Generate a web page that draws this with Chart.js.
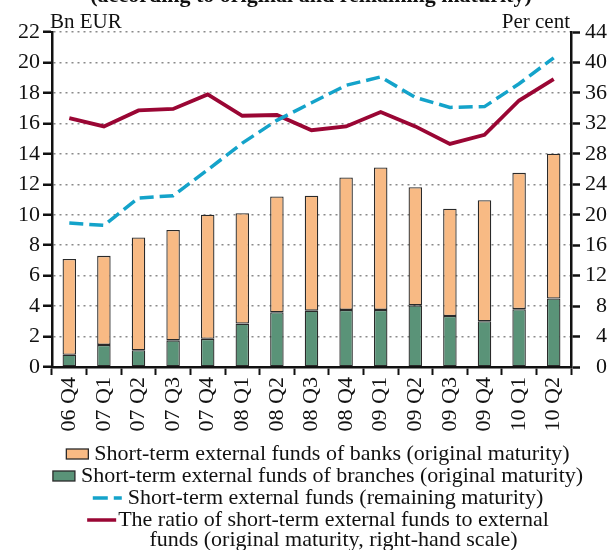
<!DOCTYPE html>
<html>
<head>
<meta charset="utf-8">
<script src="https://cdn.jsdelivr.net/npm/chart.js@4.4.1/dist/chart.umd.min.js"></script>
<style>
  html, body { margin: 0; padding: 0; background: #fff; }
  #wrap { width: 609px; height: 550px; }
</style>
</head>
<body>
<div id="wrap"><canvas id="chart" width="609" height="550"></canvas></div>
<script>
// ---------------------
// Data
// ---------------------

const quarters = ['06 Q4','07 Q1','07 Q2','07 Q3','07 Q4','08 Q1','08 Q2','08 Q3',
                  '08 Q4','09 Q1','09 Q2','09 Q3','09 Q4','10 Q1','10 Q2'];

// Bn EUR, stacked (branches at the bottom, banks on top)
const branchFunds = [0.8,1.45,1.1,1.75,1.85,2.85,3.6,3.7,3.75,3.75,4.05,3.35,3.0,3.8,4.5];
const bankFunds   = [6.3,5.85,7.4,7.25,8.15,7.25,7.6,7.55,8.7,9.35,7.75,7.05,7.95,8.95,9.5];

// Bn EUR, left-hand scale
const remainingMaturity = [9.45,9.3,11.1,11.25,12.95,14.7,16.2,17.35,18.5,19.05,17.7,17.05,17.1,18.6,20.3];

// Per cent, right-hand scale
const shortTermRatio = [32.7,31.6,33.7,33.9,35.8,33.0,33.1,31.1,31.6,33.5,31.6,29.3,30.5,35.0,37.8];

const titleText = '(according to original and remaining maturity)';
const leftUnit = 'Bn EUR';
const rightUnit = 'Per cent';

const legendItems = [
  { type: 'box',  color: '#F8BA84', lines: ['Short-term external funds of banks (original maturity)'] },
  { type: 'box',  color: '#5A9378', lines: ['Short-term external funds of branches (original maturity)'] },
  { type: 'dash', color: '#14A3CA', lines: ['Short-term external funds (remaining maturity)'] },
  { type: 'line', color: '#9A0634', lines: ['The ratio of short-term external funds to external',
                                             'funds (original maturity, right-hand scale)'] }
];

const FONT = '"Liberation Serif", "Times New Roman", serif';

// ---------------------
// Titles + legend drawn on the canvas
// ---------------------

const extras = {
  id: 'extras',
  afterDraw(chart) {
    const ctx = chart.ctx;
    ctx.save();
    ctx.fillStyle = '#111';
    ctx.textBaseline = 'alphabetic';

    ctx.font = 'bold 22px ' + FONT;
    ctx.textAlign = 'center';
    ctx.fillText(titleText, 311, 2);

    ctx.font = '21px ' + FONT;
    ctx.textAlign = 'left';
    ctx.fillText(leftUnit, 50, 28);
    ctx.textAlign = 'right';
    ctx.fillText(rightUnit, 570, 28);

    // legend
    ctx.font = '22px ' + FONT;
    ctx.textAlign = 'left';
    const centre = 318;
    const lineGap = 22;
    let base = 460;
    legendItems.forEach(item => {
      const symW = item.type === 'box' ? 22 : 29;
      const gap = item.type === 'box' ? 6 : (item.type === 'dash' ? 6 : 2);
      const textW = ctx.measureText(item.lines[0]).width;
      const x0 = centre - (symW + gap + textW) / 2;
      const midY = base - 6;

      if (item.type === 'box') {
        ctx.fillStyle = item.color;
        ctx.fillRect(x0, midY - 5, symW, 10);
        ctx.strokeStyle = '#2a2a2a';
        ctx.lineWidth = 1.3;
        ctx.strokeRect(x0, midY - 5, symW, 10);
      } else {
        ctx.strokeStyle = item.color;
        ctx.lineWidth = 3.5;
        ctx.setLineDash(item.type === 'dash' ? [15, 6] : []);
        ctx.beginPath();
        ctx.moveTo(x0, midY);
        ctx.lineTo(x0 + symW, midY);
        ctx.stroke();
        ctx.setLineDash([]);
      }

      ctx.fillStyle = '#111';
      const tx = x0 + symW + gap;
      ctx.fillText(item.lines[0], tx, base);
      const textCentre = tx + textW / 2;
      for (let i = 1; i < item.lines.length; i++) {
        base += lineGap - 2;
        ctx.textAlign = 'center';
        ctx.fillText(item.lines[i], textCentre, base);
        ctx.textAlign = 'left';
      }
      base += lineGap;
    });

    ctx.restore();
  }
};

// ---------------------
// Chart
// ---------------------

const tickFont = { family: FONT, size: 22 };

new Chart(document.getElementById('chart'), {
  type: 'bar',
  data: {
    labels: quarters,
    datasets: [
      {
        type: 'line',
        label: 'Short-term external funds (remaining maturity)',
        data: remainingMaturity,
        yAxisID: 'y',
        borderColor: '#14A3CA',
        borderWidth: 3.5,
        borderDash: [14, 6],
        pointRadius: 0,
        tension: 0,
        fill: false,
        order: 0
      },
      {
        type: 'line',
        label: 'The ratio of short-term external funds to external funds',
        data: shortTermRatio,
        yAxisID: 'y2',
        borderColor: '#9A0634',
        borderWidth: 3.8,
        pointRadius: 0,
        tension: 0,
        fill: false,
        order: 1
      },
      {
        label: 'Short-term external funds of branches (original maturity)',
        data: branchFunds,
        yAxisID: 'y',
        backgroundColor: '#5A9378',
        borderColor: '#2a2a2a',
        borderWidth: 1.3,
        borderSkipped: false,
        stack: 'funds',
        order: 2
      },
      {
        label: 'Short-term external funds of banks (original maturity)',
        data: bankFunds,
        yAxisID: 'y',
        backgroundColor: '#F8BA84',
        borderColor: '#2a2a2a',
        borderWidth: 1.3,
        borderSkipped: false,
        stack: 'funds',
        order: 2
      }
    ]
  },
  options: {
    responsive: false,
    animation: false,
    layout: { padding: { top: 32, right: 2, left: 0, bottom: 0 } },
    datasets: {
      bar: { barPercentage: 0.39, categoryPercentage: 1 }
    },
    plugins: {
      legend: { display: false },
      tooltip: { enabled: false }
    },
    scales: {
      x: {
        stacked: true,
        afterFit: s => { s.height = 183; },
        grid: {
          offset: true,
          drawOnChartArea: false,
          drawTicks: true,
          tickLength: 8,
          tickColor: '#111',
          tickWidth: 2
        },
        border: { color: '#111', width: 2.5 },
        ticks: {
          font: tickFont,
          color: '#111',
          minRotation: 90,
          maxRotation: 90,
          autoSkip: false,
          padding: 2
        }
      },
      y: {
        position: 'left',
        stacked: true,
        min: 0,
        max: 22,
        afterFit: s => { s.width = 52; },
        grid: {
          color: '#8a8a8a',
          lineWidth: 1.5,
          drawTicks: true,
          tickLength: 9,
          tickColor: '#111',
          tickWidth: 2.5
        },
        border: { color: '#111', width: 2.5, dash: [2, 4] },
        ticks: { stepSize: 2, font: tickFont, color: '#111', padding: 3 }
      },
      y2: {
        position: 'right',
        min: 0,
        max: 44,
        afterFit: s => { s.width = 36; },
        grid: {
          drawOnChartArea: false,
          drawTicks: true,
          tickLength: 9,
          tickColor: '#111',
          tickWidth: 2.5
        },
        border: { color: '#111', width: 2.5 },
        ticks: { stepSize: 4, font: tickFont, color: '#111', padding: 4, crossAlign: 'far' }
      }
    }
  },
  plugins: [extras]
});
</script>
</body>
</html>
